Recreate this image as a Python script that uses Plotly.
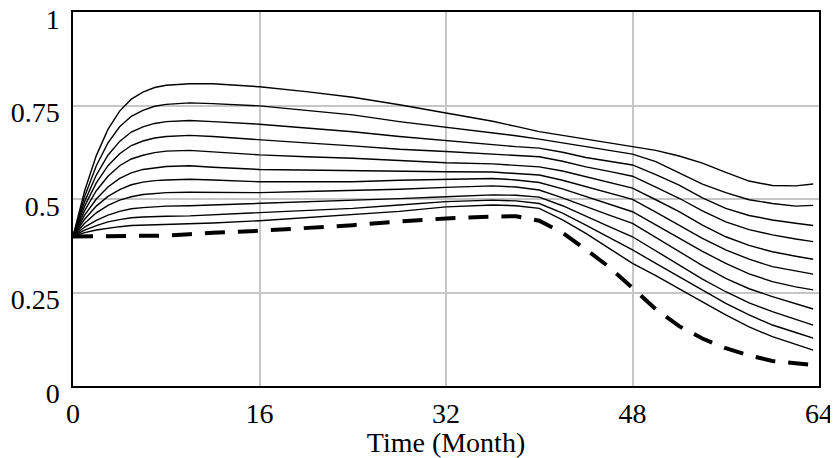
import plotly.graph_objects as go

TIME = [0, 1, 2, 3, 4, 5, 6, 7, 8, 10, 12, 16, 20, 24, 28, 32, 36, 38, 40, 42, 44, 46,
        48, 50, 52, 54, 56, 58, 60, 62, 63.5]

RUN_1 = [0.400, 0.522, 0.616, 0.686, 0.735, 0.767, 0.786, 0.798, 0.804,
         0.808, 0.808, 0.800, 0.787, 0.772, 0.752, 0.731, 0.708, 0.694, 0.680, 0.670, 0.660,
         0.650, 0.640, 0.630, 0.615, 0.596, 0.571, 0.548, 0.536, 0.535, 0.540]
RUN_2 = [0.400, 0.507, 0.589, 0.650, 0.693, 0.721, 0.737, 0.748, 0.753,
         0.757, 0.755, 0.749, 0.737, 0.725, 0.707, 0.692, 0.678, 0.669, 0.660, 0.650, 0.640,
         0.630, 0.620, 0.600, 0.570, 0.540, 0.517, 0.498, 0.488, 0.481, 0.483]
RUN_3 = [0.400, 0.493, 0.564, 0.617, 0.654, 0.679, 0.693, 0.702, 0.707,
         0.710, 0.707, 0.700, 0.690, 0.680, 0.667, 0.656, 0.645, 0.640, 0.636, 0.625, 0.611,
         0.601, 0.591, 0.565, 0.537, 0.503, 0.475, 0.456, 0.444, 0.435, 0.429]
RUN_4 = [0.400, 0.481, 0.543, 0.589, 0.621, 0.643, 0.655, 0.663, 0.667,
         0.670, 0.667, 0.658, 0.650, 0.642, 0.633, 0.627, 0.621, 0.618, 0.613, 0.601, 0.586,
         0.574, 0.561, 0.532, 0.502, 0.468, 0.439, 0.418, 0.404, 0.393, 0.386]
RUN_5 = [0.400, 0.469, 0.522, 0.561, 0.589, 0.607, 0.617, 0.624, 0.628,
         0.630, 0.626, 0.618, 0.613, 0.609, 0.603, 0.597, 0.594, 0.591, 0.586, 0.575, 0.560,
         0.545, 0.529, 0.498, 0.466, 0.430, 0.399, 0.376, 0.359, 0.347, 0.339]
RUN_6 = [0.400, 0.457, 0.500, 0.532, 0.555, 0.570, 0.579, 0.584, 0.587,
         0.589, 0.585, 0.579, 0.577, 0.575, 0.574, 0.573, 0.572, 0.569, 0.564, 0.550, 0.533,
         0.516, 0.499, 0.465, 0.430, 0.395, 0.364, 0.339, 0.319, 0.307, 0.299]
RUN_7 = [0.400, 0.446, 0.481, 0.507, 0.525, 0.538, 0.545, 0.549, 0.551,
         0.553, 0.551, 0.546, 0.546, 0.546, 0.550, 0.553, 0.555, 0.551, 0.544, 0.527, 0.506,
         0.486, 0.466, 0.431, 0.395, 0.360, 0.328, 0.300, 0.279, 0.265, 0.257]
RUN_8 = [0.400, 0.435, 0.463, 0.483, 0.497, 0.506, 0.512, 0.515, 0.517,
         0.518, 0.518, 0.517, 0.520, 0.522, 0.526, 0.531, 0.535, 0.532, 0.524, 0.503, 0.479,
         0.457, 0.435, 0.397, 0.359, 0.322, 0.288, 0.260, 0.239, 0.220, 0.206]
RUN_9 = [0.400, 0.425, 0.443, 0.457, 0.467, 0.474, 0.477, 0.480, 0.481,
         0.482, 0.484, 0.487, 0.492, 0.497, 0.501, 0.506, 0.511, 0.510, 0.505, 0.482, 0.453,
         0.426, 0.399, 0.361, 0.324, 0.286, 0.252, 0.222, 0.199, 0.179, 0.163]
RUN_10 = [0.400, 0.417, 0.429, 0.439, 0.445, 0.450, 0.452, 0.454, 0.454,
          0.455, 0.458, 0.462, 0.468, 0.475, 0.484, 0.493, 0.497, 0.495, 0.488, 0.462, 0.430,
          0.397, 0.364, 0.328, 0.292, 0.255, 0.221, 0.190, 0.163, 0.143, 0.128]
RUN_11 = [0.400, 0.410, 0.417, 0.422, 0.426, 0.429, 0.430, 0.431, 0.432,
          0.432, 0.436, 0.442, 0.450, 0.457, 0.467, 0.479, 0.484, 0.482, 0.475, 0.444, 0.408,
          0.368, 0.328, 0.295, 0.261, 0.225, 0.190, 0.158, 0.132, 0.112, 0.096]

BASE_TIME = [0, 2, 4, 6, 8, 10, 12, 16, 20, 24, 28, 32, 36, 38, 40, 42, 44, 46, 48, 50,
             52, 54, 56, 58, 60, 62, 63.5]
BASE_RUN = [0.400, 0.400, 0.400, 0.401, 0.402, 0.406, 0.410, 0.415, 0.422, 0.430, 0.440,
            0.448, 0.453, 0.454, 0.442, 0.410, 0.365, 0.318, 0.262, 0.205, 0.160, 0.127,
            0.101, 0.082, 0.067, 0.060, 0.056]

X_TICKS = [0, 16, 32, 48, 64]
Y_TICKS = [0, 0.25, 0.5, 0.75, 1]
Y_TICK_LABELS = ["0", "0.25", "0.5", "0.75", "1"]
X_TITLE = "Time (Month)"

SOLID_RUNS = [RUN_1, RUN_2, RUN_3, RUN_4, RUN_5, RUN_6, RUN_7, RUN_8, RUN_9, RUN_10, RUN_11]

FONT = "Liberation Serif, Times New Roman, serif"

fig = go.Figure()
for i, run in enumerate(SOLID_RUNS):
    fig.add_trace(go.Scatter(x=TIME, y=run, mode="lines",
                             line=dict(color="black", width=1.4),
                             name=f"run {i + 1}", showlegend=False))
fig.add_trace(go.Scatter(x=BASE_TIME, y=BASE_RUN, mode="lines",
                         line=dict(color="black", width=4, dash="20px,13px"),
                         name="base", showlegend=False))

# The page body adds an 8px margin, so the figure is sized to fit the window.
fig.update_layout(
    width=830, height=450,
    margin=dict(l=65, r=19, t=4, b=72, autoexpand=False),
    paper_bgcolor="white", plot_bgcolor="white",
    font=dict(family=FONT, size=28, color="black"),
    showlegend=False,
)
fig.update_xaxes(
    range=[0, 64], tickvals=X_TICKS, ticktext=[str(v) for v in X_TICKS],
    showgrid=True, gridcolor="#c6c6c6", gridwidth=1.5,
    showline=True, linecolor="black", linewidth=1.5, mirror=True,
    zeroline=False, ticks="", ticklabelstandoff=2,
    title=dict(text=X_TITLE, standoff=0, font=dict(size=28)),
    automargin=False, ticklabeloverflow="allow",
)
fig.update_yaxes(
    range=[0, 1], tickvals=Y_TICKS, ticktext=Y_TICK_LABELS,
    showgrid=True, gridcolor="#c6c6c6", gridwidth=1.5,
    showline=True, linecolor="black", linewidth=1.5, mirror=True,
    zeroline=False, ticks="", ticklabelstandoff=6, ticklabelshift=7,
    automargin=False, ticklabeloverflow="allow",
)

fig.write_html("out.html")
